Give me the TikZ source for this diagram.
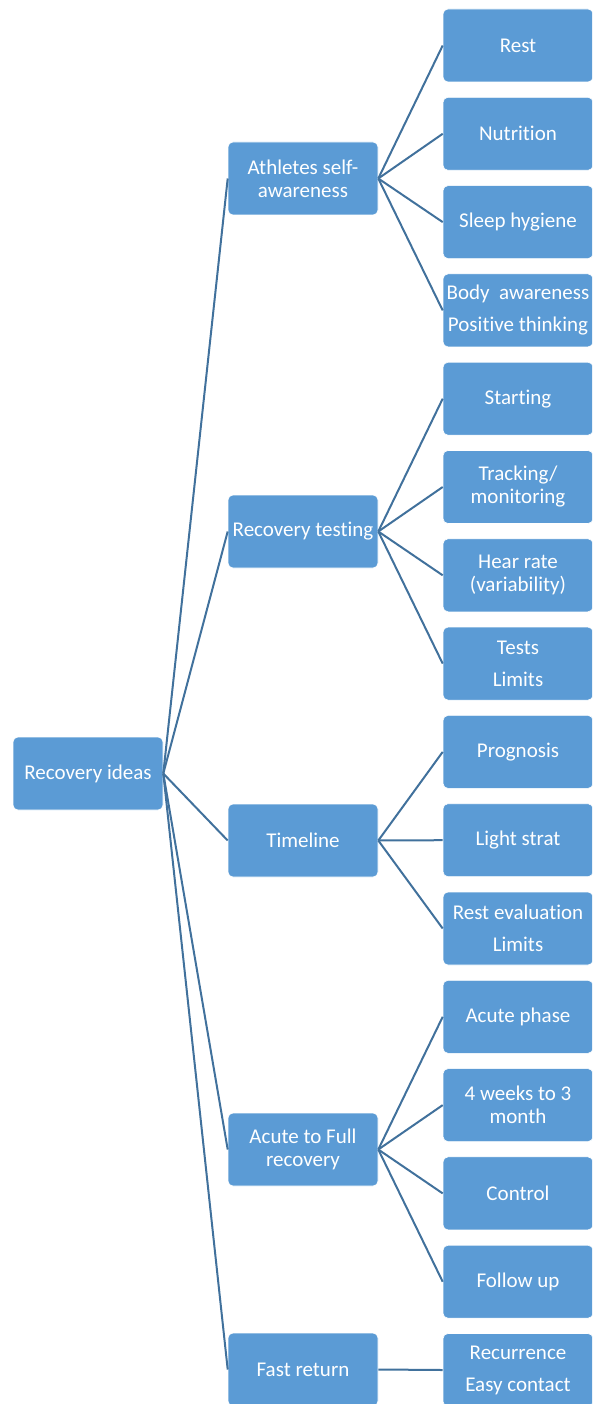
\documentclass[tikz,border=0pt]{standalone}
\usepackage{fontspec}
\setmainfont{Carlito}[Ligatures=CommonOff]
\definecolor{boxblue}{HTML}{5B9BD5}
\definecolor{linkblue}{HTML}{41719C}
\begin{document}
\begin{tikzpicture}[x=1pt,y=-1pt,
  box/.style={rectangle, rounded corners=5pt, fill=boxblue, draw=white, line width=0.6pt,
    minimum width=150pt, minimum height=73pt, inner sep=0pt, text=white, align=center,
    font=\fontsize{21}{23}\selectfont},
  link/.style={draw=linkblue, line width=2pt}]
\useasboundingbox (0,0) rectangle (592,1404);
\clip (0,0) rectangle (592,1404);

% root
\node[box] (root) at (88,773.5) {Recovery ideas};

% first level
\node[box] (aware) at (303,178.5)  {Athletes self-\\awareness};
\node[box] (test)  at (303,531.5)  {Recovery testing};
\node[box] (time)  at (303,840.5)  {Timeline};
\node[box] (acute) at (303,1149.5) {Acute to Full\\recovery};
\node[box] (fast)  at (303,1369.5) {Fast return};

% leaves
\node[box] (rest)   at (518,45.5)   {Rest};
\node[box] (nutr)   at (518,133.8)  {Nutrition};
\node[box] (sleep)  at (518,222.1)  {Sleep hygiene};
\node[box] (body)   at (518,310.4)  {Body\ \ awareness\\[9pt]Positive thinking};
\node[box] (start)  at (518,398.7)  {Starting};
\node[box] (track)  at (518,487.0)  {Tracking/\\monitoring};
\node[box] (heart)  at (518,575.3)  {Hear rate\\(variability)};
\node[box] (tests)  at (518,663.6)  {Tests\\[9pt]Limits};
\node[box] (progn)  at (518,751.9)  {Prognosis};
\node[box] (light)  at (518,840.2)  {Light strat};
\node[box] (reval)  at (518,928.5)  {Rest evaluation\\[9pt]Limits};
\node[box] (aphase) at (518,1016.8) {Acute phase};
\node[box] (weeks)  at (518,1105.1) {4 weeks to 3\\month};
\node[box] (ctrl)   at (518,1193.4) {Control};
\node[box] (follow) at (518,1281.7) {Follow up};
\node[box] (recur)  at (518,1370.0) {Recurrence\\[9pt]Easy contact};

% connectors
\foreach \c in {aware,test,time,acute,fast}
  \draw[link] (root.east) -- (\c.west);
\foreach \c in {rest,nutr,sleep,body}
  \draw[link] (aware.east) -- (\c.west);
\foreach \c in {start,track,heart,tests}
  \draw[link] (test.east) -- (\c.west);
\foreach \c in {progn,light,reval}
  \draw[link] (time.east) -- (\c.west);
\foreach \c in {aphase,weeks,ctrl,follow}
  \draw[link] (acute.east) -- (\c.west);
\draw[link] (fast.east) -- (recur.west);
\end{tikzpicture}
\end{document}
